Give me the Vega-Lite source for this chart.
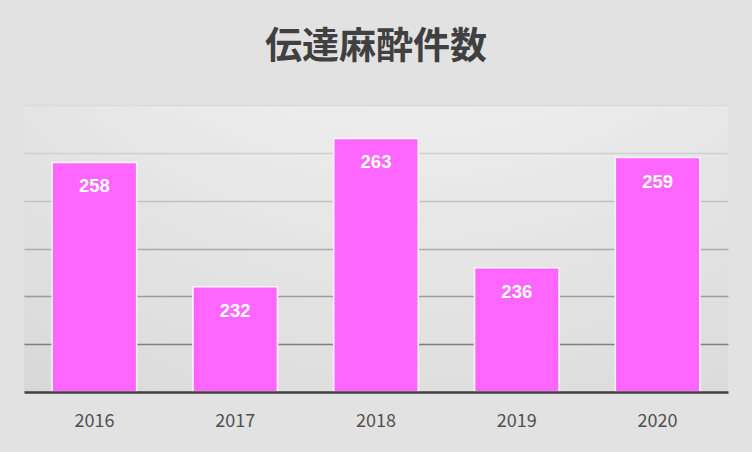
{
  "$schema": "https://vega.github.io/schema/vega-lite/v6.json",
  "autosize": "none",
  "width": 704,
  "height": 287,
  "padding": {"left": 24, "top": 105, "right": 24, "bottom": 60},
  "background": "#e2e2e2",
  "title": {
    "text": "伝達麻酔件数",
    "font": "Noto Sans CJK JP",
    "fontSize": 37,
    "fontWeight": "bold",
    "color": "#404040",
    "anchor": "middle",
    "offset": 38
  },
  "config": {
    "view": {
      "stroke": null,
      "fill": {
        "gradient": "radial",
        "x1": 0.56, "y1": -0.2, "r1": 0,
        "x2": 0.56, "y2": -0.2, "r2": 1.3,
        "stops": [
          {"offset": 0, "color": "#fafafa"},
          {"offset": 0.4, "color": "#ececec"},
          {"offset": 0.75, "color": "#dcdcdc"},
          {"offset": 1, "color": "#c8c8c8"}
        ]
      }
    }
  },
  "data": {
    "values": [
      {"year": "2016", "count": 258},
      {"year": "2017", "count": 232},
      {"year": "2018", "count": 263},
      {"year": "2019", "count": 236},
      {"year": "2020", "count": 259}
    ]
  },
  "encoding": {
    "x": {
      "field": "year",
      "type": "nominal",
      "sort": null,
      "scale": {"paddingInner": 0.4, "paddingOuter": 0.2},
      "axis": {
        "title": null,
        "labelAngle": 0,
        "labelFont": "Noto Sans CJK JP",
        "labelFontSize": 18,
        "labelColor": "#505050",
        "labelPadding": 20,
        "ticks": false,
        "domainColor": "#404040",
        "domainWidth": 2.5,
        "grid": false,
        "zindex": 1
      }
    },
    "y": {
      "field": "count",
      "type": "quantitative",
      "scale": {"domain": [210, 270], "zero": false, "nice": false},
      "axis": {
        "title": null,
        "labels": false,
        "ticks": false,
        "domain": false,
        "values": [220, 230, 240, 250, 260, 270],
        "gridWidth": 1.5,
        "gridColor": {
          "condition": [
            {"test": "datum.value <= 220", "value": "#808080"},
            {"test": "datum.value <= 230", "value": "#9c9c9c"},
            {"test": "datum.value <= 240", "value": "#ababab"},
            {"test": "datum.value <= 250", "value": "#c2c2c2"},
            {"test": "datum.value <= 260", "value": "#d0d0d0"}
          ],
          "value": "#dadada"
        }
      }
    }
  },
  "layer": [
    {
      "mark": {"type": "bar", "color": "#ff66ff", "stroke": "#fff4ff", "strokeWidth": 1.5},
      "encoding": {"y2": {"datum": 210}}
    },
    {
      "mark": {
        "type": "text",
        "color": "#ffffff",
        "font": "Liberation Sans",
        "fontSize": 18.5,
        "fontWeight": "bold",
        "baseline": "middle",
        "dy": 24
      },
      "encoding": {"text": {"field": "count", "type": "quantitative"}}
    }
  ]
}
